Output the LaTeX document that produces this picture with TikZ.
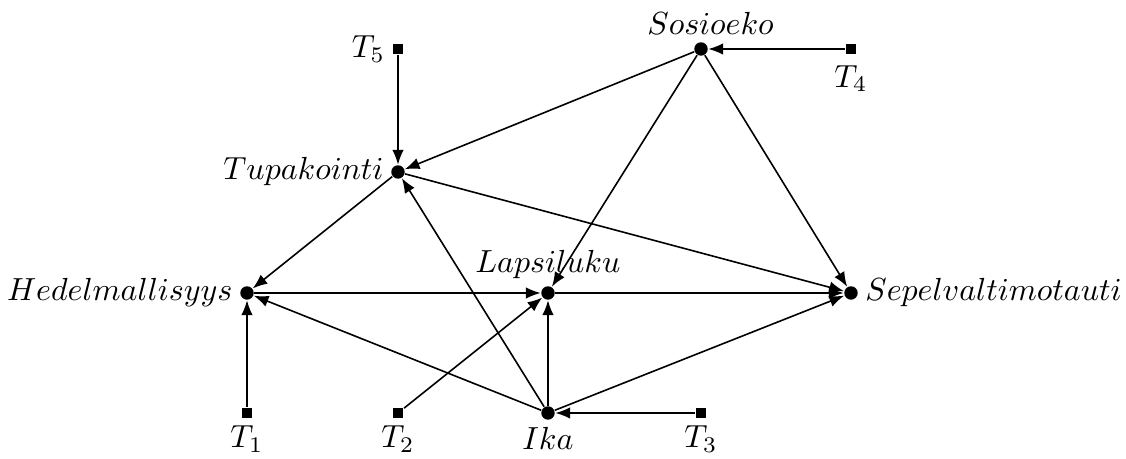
\documentclass[tikz,border=0pt]{standalone}
\usetikzlibrary{arrows.meta}
\begin{document}
\begin{tikzpicture}[x=0.313pt,y=-0.313pt,
  var/.style={circle,fill=black,inner sep=0pt,minimum size=4.2pt},
  err/.style={rectangle,fill=black,inner sep=0pt,minimum size=3.4pt},
  edge/.style={-{Latex[length=4.6pt,width=3.6pt]},line width=0.5pt},
  every label/.style={inner sep=2pt}]
\useasboundingbox (0,0) rectangle (1126,459);
\node[var,label={[xshift=3pt]above:$Sosioeko$}] (so) at (701,49) {};
\node[err,label={[yshift=-1pt]below:$T_4$}] (t4) at (851,49) {};
\node[err,label={left:$T_5$}] (t5) at (398,49) {};
\node[var,label={left:$Tupakointi$}] (tu) at (398,172) {};
\node[var,label={left:$Hedelmallisyys$}] (he) at (247,293) {};
\node[var,label={above:$Lapsiluku$}] (la) at (548,293) {};
\node[var,label={right:$Sepelvaltimotauti$}] (se) at (851,293) {};
\node[err,label={below:$T_1$}] (t1) at (247,413) {};
\node[err,label={below:$T_2$}] (t2) at (398,413) {};
\node[var,label={below:$Ika$}] (ik) at (548,413) {};
\node[err,label={below:$T_3$}] (t3) at (701,413) {};
\draw[edge] (t4) -- (so);
\draw[edge] (t5) -- (tu);
\draw[edge] (so) -- (tu);
\draw[edge] (so) -- (la);
\draw[edge] (so) -- (se);
\draw[edge] (tu) -- (he);
\draw[edge] (tu) -- (se);
\draw[edge] (he) -- (la);
\draw[edge] (la) -- (se);
\draw[edge] (t1) -- (he);
\draw[edge] (t2) -- (la);
\draw[edge] (ik) -- (he);
\draw[edge] (ik) -- (tu);
\draw[edge] (ik) -- (la);
\draw[edge] (ik) -- (se);
\draw[edge] (t3) -- (ik);
\end{tikzpicture}
\end{document}
